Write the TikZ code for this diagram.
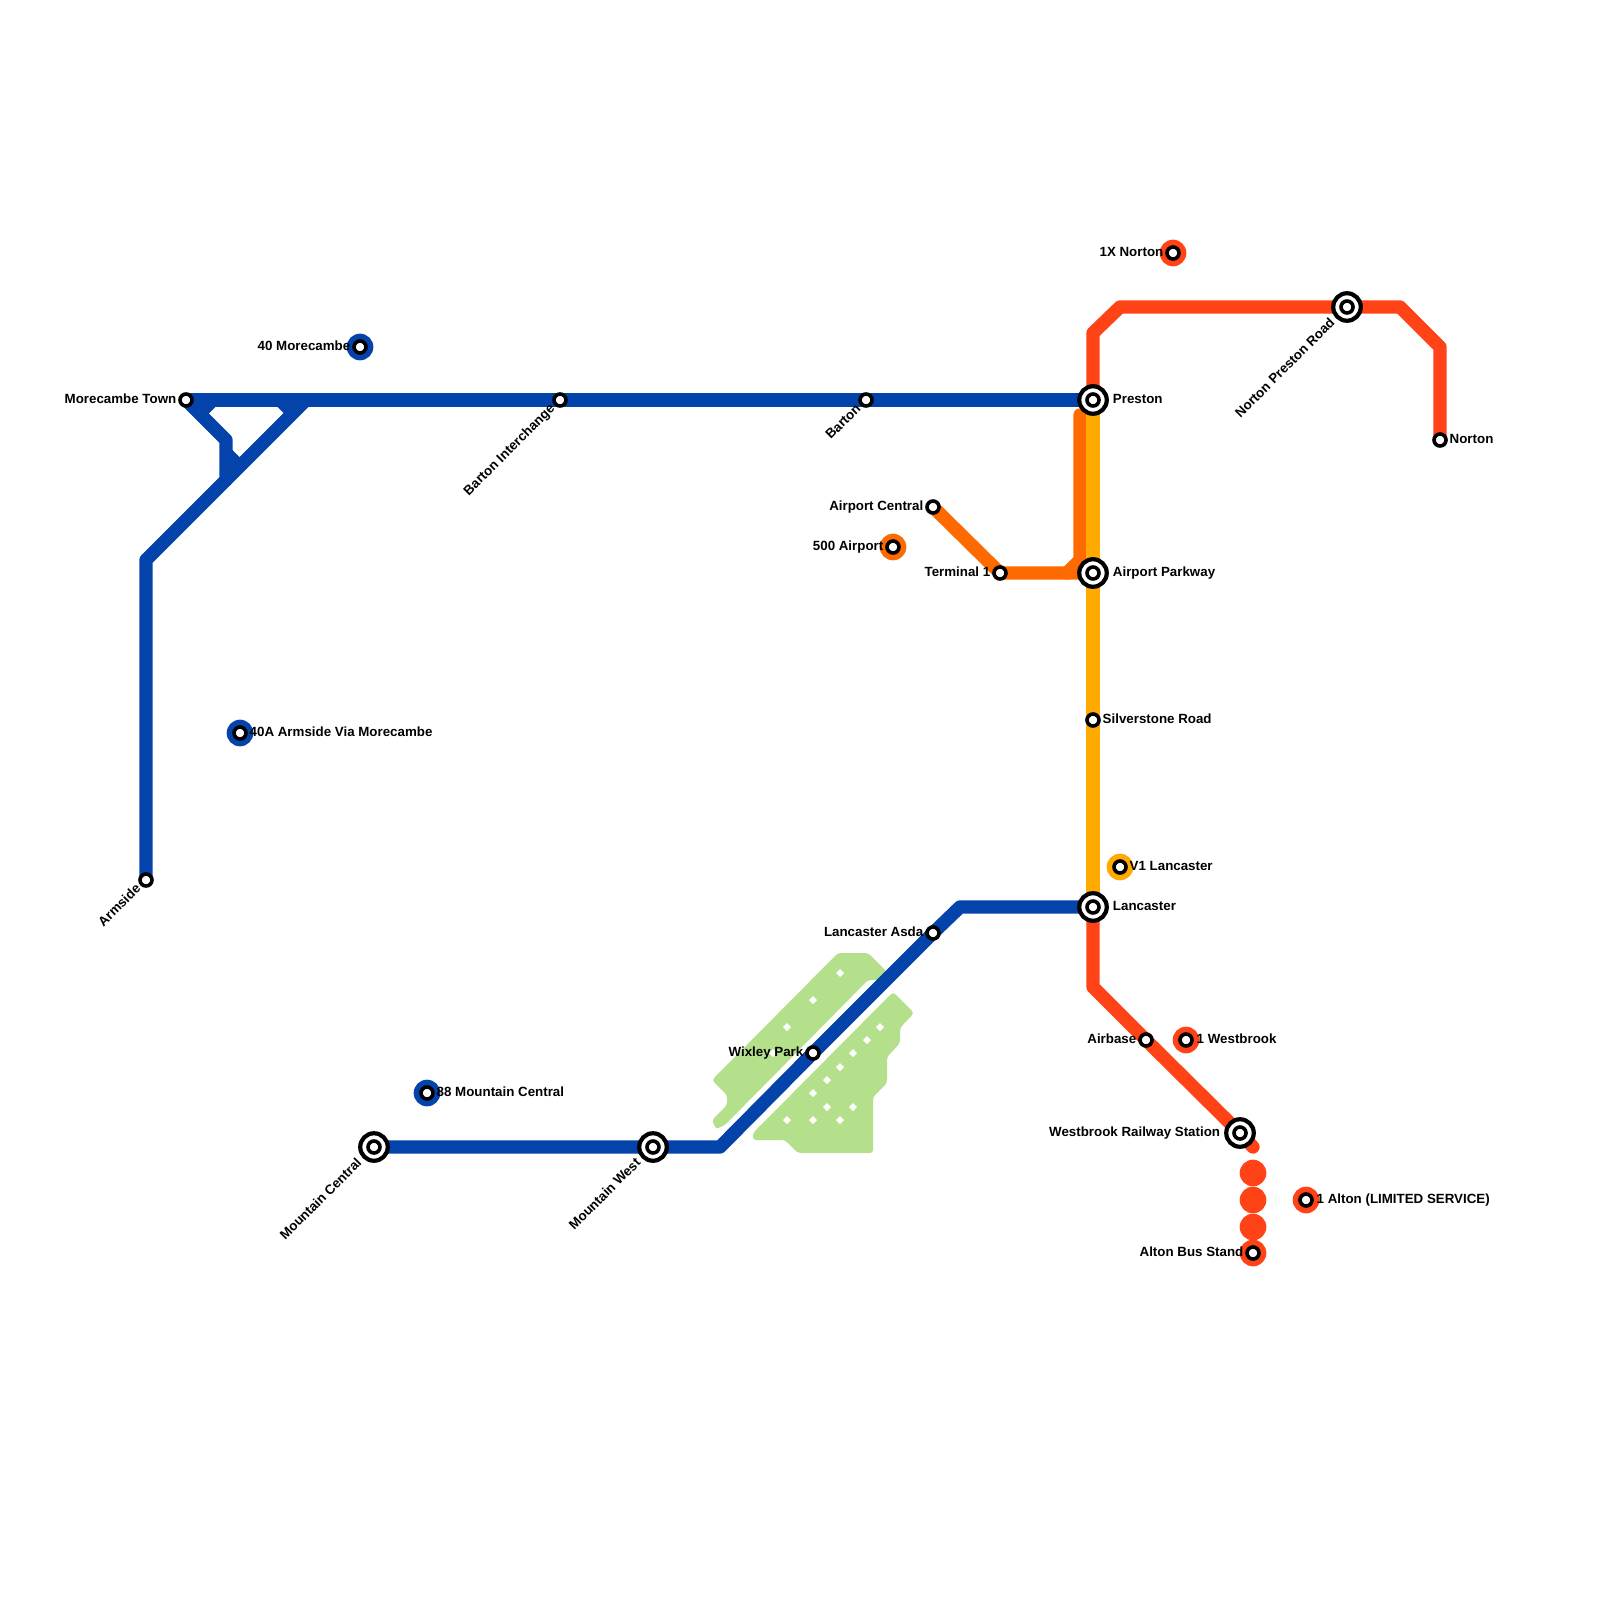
\documentclass[tikz,border=0pt]{standalone}
\usepackage{fontspec}
\setmainfont{Liberation Sans}
\usetikzlibrary{positioning,backgrounds}
\definecolor{lineblue}{RGB}{3,67,170}
\definecolor{linered}{RGB}{255,67,22}
\definecolor{lineorange}{RGB}{255,106,0}
\definecolor{lineamber}{RGB}{255,170,0}
\definecolor{parkgreen}{RGB}{180,224,140}
\begin{document}
\begin{tikzpicture}[x=1pt, y=-1pt,
	line/.style={line width=13.33pt, line join=round, line cap=round},
	stub/.style={line width=13.33pt, line cap=butt},
	stop/.style={circle, draw=black, fill=white, line width=3.6pt, minimum size=12pt, inner sep=0pt, outer sep=0pt},
	hub/.style={circle, draw=black, fill=white, line width=4.2pt, minimum size=27.5pt, inner sep=0pt, outer sep=0pt},
	disc/.style={circle, minimum size=26.67pt, inner sep=0pt, outer sep=0pt},
	lbl/.style={font=\fontsize{13.33}{16}\selectfont\bfseries, inner sep=0pt, text height=10pt, text depth=3pt}]
	\useasboundingbox (0,0) rectangle (1600,1600);
	% route markers
	\node[disc, fill=lineblue] (morecambeDisc) at (360,347) {};
	\node[disc, fill=lineblue] (armsideDisc) at (240,733) {};
	\node[disc, fill=lineblue] (mountainDisc) at (427,1093) {};
	\node[disc, fill=lineorange] (airportDisc) at (893,547) {};
	\node[disc, fill=lineamber] (lancasterDisc) at (1120,867) {};
	\node[disc, fill=linered] (nortonDisc) at (1173,253) {};
	\node[disc, fill=linered] (westbrookDisc) at (1186,1040) {};
	\node[disc, fill=linered] (altonDisc) at (1306,1200) {};
	\node[disc, fill=linered] (altonA) at (1253,1173) {};
	\node[disc, fill=linered] (altonB) at (1253,1200) {};
	\node[disc, fill=linered] (altonC) at (1253,1227) {};
	\node[disc, fill=linered] (altonD) at (1253,1253) {};
	% stations
	\node[stop] (morecambe) at (186,400) {};
	\node[stop] (armside) at (146,880) {};
	\node[stop] (bartonInt) at (560,400) {};
	\node[stop] (barton) at (866,400) {};
	\node[hub] (preston) at (1093,400) {};
	\node[stop] (prestonIn) at (1093,400) {};
	\node[stop] (airportCen) at (933,507) {};
	\node[stop] (terminal) at (1000,573) {};
	\node[hub] (parkway) at (1093,573) {};
	\node[stop] (parkwayIn) at (1093,573) {};
	\node[stop] (silverstone) at (1093,720) {};
	\node[hub] (lancaster) at (1093,907) {};
	\node[stop] (lancasterIn) at (1093,907) {};
	\node[stop] (asda) at (933,933) {};
	\node[stop] (wixley) at (813,1053) {};
	\node[hub] (mtnWest) at (653,1147) {};
	\node[stop] (mtnWestIn) at (653,1147) {};
	\node[hub] (mtnCen) at (374,1147) {};
	\node[stop] (mtnCenIn) at (374,1147) {};
	\node[stop] (airbase) at (1146,1040) {};
	\node[hub] (westbrook) at (1240,1133) {};
	\node[stop] (westbrookIn) at (1240,1133) {};
	\node[stop] (altonBus) at (1253,1253) {};
	\node[stop] (norton) at (1440,440) {};
	\node[hub] (nortonPr) at (1347,307) {};
	\node[stop] (nortonPrIn) at (1347,307) {};
	\node[stop] (morecambeR) at (360,347) {};
	\node[stop] (armsideR) at (240,733) {};
	\node[stop] (mountainR) at (427,1093) {};
	\node[stop] (airportR) at (893,547) {};
	\node[stop] (lancasterR) at (1120,867) {};
	\node[stop] (nortonR) at (1173,253) {};
	\node[stop] (westbrookR) at (1186,1040) {};
	\node[stop] (altonR) at (1306,1200) {};
	% bends
	\coordinate (blueTop) at (306,400);
	\coordinate (blueBend) at (146,560);
	\coordinate (forkA) at (226,440);
	\coordinate (forkB) at (226,480);
	\coordinate (blueLow) at (720,1147);
	\coordinate (blueHigh) at (960,907);
	\coordinate (redA) at (1093,333);
	\coordinate (redB) at (1120,307);
	\coordinate (redC) at (1400,307);
	\coordinate (redD) at (1440,347);
	\coordinate (redE) at (1093,987);
	\coordinate (redF) at (1253,1147);
	\coordinate (orangeTop) at (1080,415);
	\coordinate (orangeBend) at (1080,560);
	\coordinate (orangeLow) at (1067,573);
	% labels
	\node[lbl, left=3.5pt of morecambe] (morecambeLbl) {Morecambe Town};
	\node[lbl, rotate=45, anchor=east] (armsideLbl) at ([shift={(-7,7)}]armside.center) {Armside};
	\node[lbl, rotate=45, anchor=east] (bartonIntLbl) at ([shift={(-7,7)}]bartonInt.center) {Barton Interchange};
	\node[lbl, rotate=45, anchor=east] (bartonLbl) at ([shift={(-7,7)}]barton.center) {Barton};
	\node[lbl, right=6pt of preston] (prestonLbl) {Preston};
	\node[lbl, left=3.5pt of airportCen] (airportCenLbl) {Airport Central};
	\node[lbl, left=3.5pt of terminal] (terminalLbl) {Terminal 1};
	\node[lbl, right=6pt of parkway] (parkwayLbl) {Airport Parkway};
	\node[lbl, right=3.5pt of silverstone] (silverstoneLbl) {Silverstone Road};
	\node[lbl, right=6pt of lancaster] (lancasterLbl) {Lancaster};
	\node[lbl, left=3.5pt of asda] (asdaLbl) {Lancaster Asda};
	\node[lbl, left=3.5pt of wixley] (wixleyLbl) {Wixley Park};
	\node[lbl, rotate=45, anchor=east] (mtnWestLbl) at ([shift={(-14,14)}]mtnWest.center) {Mountain West};
	\node[lbl, rotate=45, anchor=east] (mtnCenLbl) at ([shift={(-14,14)}]mtnCen.center) {Mountain Central};
	\node[lbl, left=3.5pt of airbase] (airbaseLbl) {Airbase};
	\node[lbl, left=6pt of westbrook] (westbrookLbl) {Westbrook Railway Station};
	\node[lbl, left=3.5pt of altonBus] (altonBusLbl) {Alton Bus Stand};
	\node[lbl, right=3.5pt of norton] (nortonLbl) {Norton};
	\node[lbl, rotate=45, anchor=east] (nortonPrLbl) at ([shift={(-14,14)}]nortonPr.center) {Norton Preston Road};
	\node[lbl, left=3.5pt of morecambeR] (morecambeRLbl) {40 Morecambe};
	\node[lbl, right=3.5pt of armsideR] (armsideRLbl) {40A Armside Via Morecambe};
	\node[lbl, right=3.5pt of mountainR] (mountainRLbl) {88 Mountain Central};
	\node[lbl, left=3.5pt of airportR] (airportRLbl) {500 Airport};
	\node[lbl, right=3.5pt of lancasterR] (lancasterRLbl) {V1 Lancaster};
	\node[lbl, left=3.5pt of nortonR] (nortonRLbl) {1X Norton};
	\node[lbl, right=4.5pt of westbrookR] (westbrookRLbl) {1 Westbrook};
	\node[lbl, right=4.5pt of altonR] (altonRLbl) {1 Alton (LIMITED SERVICE)};
	\begin{scope}[on background layer]
		% parkland
		\fill[parkgreen, rounded corners=3pt] (838,953) -- (868,953) -- (887,972) -- (887,980) -- (868,980) -- (725,1125) -- (716,1129) -- (712,1120) -- (727,1105) -- (727,1095) -- (712,1080) -- cycle;
		\fill[parkgreen, rounded corners=3pt] (893,992) -- (914,1013) -- (900,1028) -- (900,1043) -- (887,1057) -- (887,1083) -- (873,1097) -- (873,1153) -- (798,1153) -- (785,1140) -- (753,1140) -- (753,1133) -- cycle;
		\fill[white] (840,969) -- (844,973) -- (840,977) -- (836,973) -- cycle;
		\fill[white] (813,996) -- (817,1000) -- (813,1004) -- (809,1000) -- cycle;
		\fill[white] (787,1023) -- (791,1027) -- (787,1031) -- (783,1027) -- cycle;
		\fill[white] (773,1049) -- (777,1053) -- (773,1057) -- (769,1053) -- cycle;
		\fill[white] (880,1023) -- (884,1027) -- (880,1031) -- (876,1027) -- cycle;
		\fill[white] (867,1036) -- (871,1040) -- (867,1044) -- (863,1040) -- cycle;
		\fill[white] (853,1049) -- (857,1053) -- (853,1057) -- (849,1053) -- cycle;
		\fill[white] (840,1063) -- (844,1067) -- (840,1071) -- (836,1067) -- cycle;
		\fill[white] (827,1076) -- (831,1080) -- (827,1084) -- (823,1080) -- cycle;
		\fill[white] (813,1089) -- (817,1093) -- (813,1097) -- (809,1093) -- cycle;
		\fill[white] (827,1103) -- (831,1107) -- (827,1111) -- (823,1107) -- cycle;
		\fill[white] (853,1103) -- (857,1107) -- (853,1111) -- (849,1107) -- cycle;
		\fill[white] (787,1116) -- (791,1120) -- (787,1124) -- (783,1120) -- cycle;
		\fill[white] (813,1116) -- (817,1120) -- (813,1124) -- (809,1120) -- cycle;
		\fill[white] (840,1116) -- (844,1120) -- (840,1124) -- (836,1120) -- cycle;
		% lines
		\draw[line, lineblue] (morecambe.center) -- (bartonInt.center) -- (barton.center) -- (preston.center);
		\draw[line, lineblue] (blueTop) -- (blueBend) -- (armside.center);
		\draw[line, lineblue] (morecambe.center) -- (forkA) -- (forkB);
		\draw[stub, lineblue] (213,400) -- (200,413);
		\draw[stub, lineblue] (280,400) -- (293,413);
		\draw[stub, lineblue] (226,453) -- (240,467);
		\draw[line, lineblue] (mtnCen.center) -- (mtnWest.center) -- (blueLow) -- (wixley.center) -- (asda.center) -- (blueHigh) -- (lancaster.center);
		\draw[line, linered] (preston.center) -- (redA) -- (redB) -- (nortonPr.center) -- (redC) -- (redD) -- (norton.center);
		\draw[line, linered] (lancaster.center) -- (redE) -- (airbase.center) -- (westbrook.center) -- (redF);
		\draw[line, lineorange] (airportCen.center) -- (terminal.center) -- (parkway.center);
		\draw[line, lineorange] (orangeTop) -- (orangeBend) -- (orangeLow);
		\draw[line, lineamber] (preston.center) -- (parkway.center) -- (silverstone.center) -- (lancaster.center);
	\end{scope}
\end{tikzpicture}
\end{document}
